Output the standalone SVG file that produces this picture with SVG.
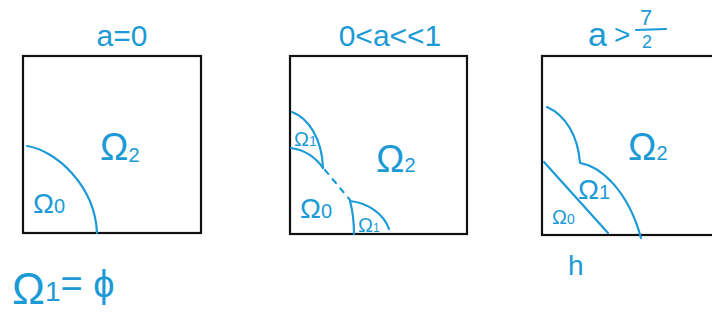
<svg xmlns="http://www.w3.org/2000/svg" width="712" height="320" viewBox="0 0 712 320">
  <style>
    .box { fill: none; stroke: #111; stroke-width: 2.2; }
    .ink { fill: none; stroke: #1b9ad6; stroke-width: 2.2; stroke-linecap: round; stroke-linejoin: round; }
    .dash { stroke-dasharray: 5 7; }
    .t { fill: #1b9ad6; font-family: "Liberation Sans", "DejaVu Sans", sans-serif; }
    .title { font-size: 30px; text-anchor: middle; }
    .big { font-size: 38px; }
    .mid { font-size: 28px; }
    .sub { font-size: 20px; }
    .tiny { font-size: 14px; }
  </style>

  <!-- case a = 0 -->
  <g id="panel-a0">
    <text class="t title" x="122" y="46">a=0</text>
    <rect class="box" x="23" y="56" width="178" height="177"/>
    <path class="ink" d="M27 146 C 55 150, 95 185, 97 233"/>
    <text class="t big" x="100" y="160">Ω<tspan class="sub" dy="2">2</tspan></text>
    <text class="t mid" x="33" y="213">Ω<tspan class="sub">0</tspan></text>
  </g>

  <!-- Ω1 is empty when a = 0 -->
  <text class="t" font-size="44" x="12" y="304" id="empty-set">Ω<tspan font-size="28" dy="-3">1</tspan><tspan font-size="38" dy="-4">= ϕ</tspan></text>

  <!-- case 0 < a << 1 -->
  <g id="panel-small">
    <text class="t title" x="390" y="46">0&lt;a&lt;&lt;1</text>
    <rect class="box" x="290" y="56" width="177" height="178"/>
    <path class="ink" d="M292 112 C 308 118, 322 138, 323 168"/>
    <path class="ink" d="M291 148 C 305 150, 316 158, 323 168"/>
    <path class="ink dash" d="M325 170 L 350 200"/>
    <path class="ink" d="M350 201 C 368 203, 384 214, 389 229"/>
    <path class="ink" d="M350 201 C 353 212, 354 224, 354 234"/>
    <text class="t sub" x="294" y="146">Ω<tspan class="tiny">1</tspan></text>
    <text class="t big" x="376" y="172">Ω<tspan class="sub">2</tspan></text>
    <text class="t mid" x="300" y="218">Ω<tspan class="sub">0</tspan></text>
    <text class="t sub" x="358" y="232">Ω<tspan font-size="12">1</tspan></text>
  </g>

  <!-- case a > 7/2 -->
  <g id="panel-large">
    <text class="t" font-size="34" x="588" y="46">a</text>
    <text class="t" font-size="28" x="614" y="44">&gt;</text>
    <text class="t" font-size="22" x="640" y="25">7</text>
    <path class="ink" d="M636 30 L 666 29"/>
    <text class="t" font-size="18" x="642" y="48">2</text>
    <rect class="box" x="542" y="56" width="190" height="179"/>
    <path class="ink" d="M547 107 C 565 115, 578 135, 580 163 C 600 166, 628 190, 641 238"/>
    <path class="ink" d="M544 162 L 608 233"/>
    <text class="t big" x="628" y="160">Ω<tspan class="sub">2</tspan></text>
    <text class="t mid" x="578" y="199">Ω<tspan class="sub">1</tspan></text>
    <text class="t sub" x="552" y="224">Ω<tspan class="tiny">0</tspan></text>
    <text class="t mid" x="568" y="275">h</text>
  </g>
</svg>
